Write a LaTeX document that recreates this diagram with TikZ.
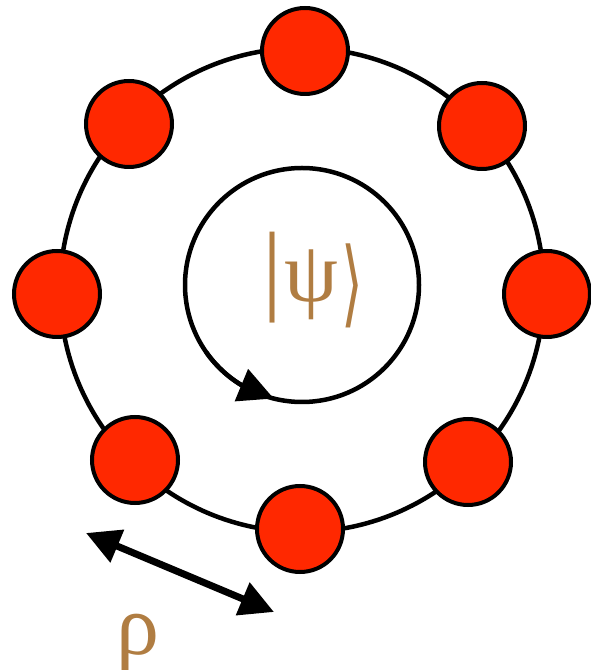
\documentclass[tikz,border=0pt]{standalone}
\usepackage{fontspec}
\usepackage{graphicx}
\setmainfont{Liberation Serif}
\newfontfamily\djsans{DejaVu Sans}
\usetikzlibrary{arrows.meta,bending}
\definecolor{sitered}{RGB}{255,40,0}
\definecolor{txtbrown}{RGB}{176,125,66}
\begin{document}
\begin{tikzpicture}[x=1pt,y=1pt,
  site/.style={circle,draw=black,fill=sitered,line width=4pt,minimum size=86pt,inner sep=0pt},
  ring/.style={line width=4.5pt},
  lbl/.style={text=txtbrown,inner sep=0pt,font=\fontsize{86}{86}\selectfont}]
\useasboundingbox (0,0) rectangle (591,670);
% ring
\coordinate (o) at (302,380);
\draw[ring] (o) circle[radius=242];
% sites
\coordinate (p1) at (305,619);
\coordinate (p2) at (482,544);
\coordinate (p3) at (547,376);
\coordinate (p4) at (468,208);
\coordinate (p5) at (300,141);
\coordinate (p6) at (135,210);
\coordinate (p7) at (57,376);
\coordinate (p8) at (129,546);
\foreach \i in {1,...,8} \node[site] (s\i) at (p\i) {};
% inner loop with arrow
\coordinate (c) at (302,385);
\draw[ring] (c) circle[radius=117];
\draw[ring,-{Triangle[length=35pt,width=34pt,flex]}] (c) ++(215:117) arc[start angle=215,end angle=256,radius=117];
% state label
\node[lbl,anchor=base west] (psi) at (262,368) {{\fontsize{100}{100}\selectfont|}\kern2pt ψ\kern3pt\raisebox{-14pt}{\scalebox{0.62}[1.05]{\djsans\fontsize{90}{90}\selectfont ⟩}}};
% distance arrow
\coordinate (a1) at (86,137);
\coordinate (a2) at (274,58);
\draw[line width=7pt,{Triangle[length=34pt,width=34pt]}-{Triangle[length=34pt,width=34pt]}] (a1) -- (a2);
\node[lbl,anchor=base] (rho) at (138,16) {ρ};
\end{tikzpicture}
\end{document}
